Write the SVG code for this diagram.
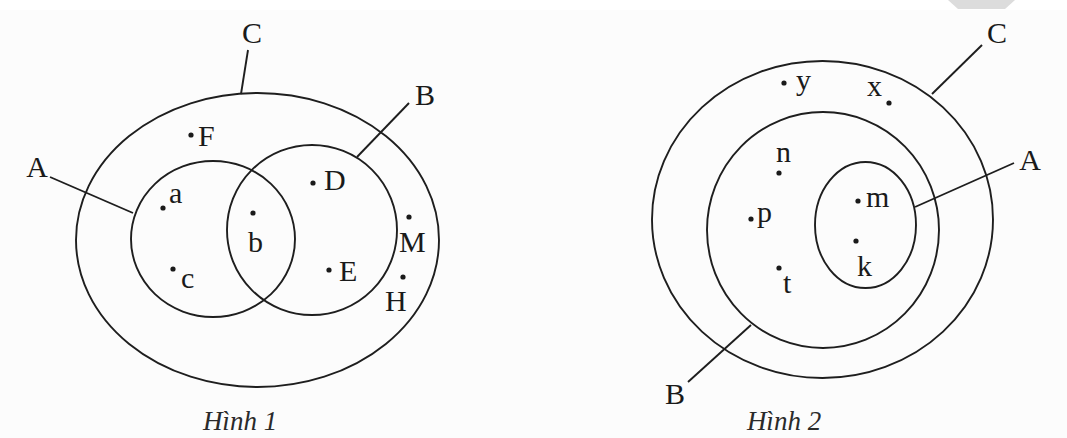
<svg xmlns="http://www.w3.org/2000/svg" width="1067" height="438" viewBox="0 0 1067 438">
<style>
.sh{fill:none;stroke:#1e1e1e;stroke-width:1.9}
.ln{stroke:#1e1e1e;stroke-width:1.9;fill:none}
.dot{fill:#1a1a1a}
.t{font-family:"Liberation Serif","DejaVu Serif",serif;font-size:30px;fill:#1a1a1a}
.cap{font-family:"Liberation Serif","DejaVu Serif",serif;font-size:27px;font-style:italic;fill:#2a2a2a}
</style>
<rect x="0" y="0" width="1067" height="438" fill="#fcfcfc"/>
<rect x="0" y="0" width="1067" height="10" fill="#ffffff"/>
<polygon points="948,0 1015,0 1005,9 958,9" fill="#dcdcdc"/>

<g id="fig1">
  <g id="fig1-C"><ellipse class="sh" cx="257.5" cy="240" rx="181.5" ry="147"/><text class="t" x="252" y="43" text-anchor="middle">C</text></g>
  <g id="fig1-A"><ellipse class="sh" cx="213" cy="239" rx="82" ry="78"/><text class="t" x="37" y="177" text-anchor="middle">A</text></g>
  <g id="fig1-B"><ellipse class="sh" cx="312" cy="230" rx="85" ry="85"/><text class="t" x="425" y="105" text-anchor="middle">B</text></g>
  <g id="fig1-points">
    <circle class="dot" cx="191" cy="135" r="2.6"/><text class="t" x="198" y="146">F</text>
    <circle class="dot" cx="163" cy="208" r="2.6"/><text class="t" x="169" y="203">a</text>
    <circle class="dot" cx="253" cy="213" r="2.6"/><text class="t" x="248" y="252">b</text>
    <circle class="dot" cx="173" cy="269" r="2.6"/><text class="t" x="181" y="288">c</text>
    <circle class="dot" cx="313" cy="183" r="2.6"/><text class="t" x="324" y="190">D</text>
    <circle class="dot" cx="329" cy="270" r="2.6"/><text class="t" x="339" y="281">E</text>
    <circle class="dot" cx="409" cy="217" r="2.6"/><text class="t" x="399" y="252">M</text>
    <circle class="dot" cx="403" cy="277" r="2.6"/><text class="t" x="385" y="311">H</text>
  </g>
  <text class="cap" x="240" y="430" text-anchor="middle">Hình 1</text>
</g>

<g id="fig2">
  <g id="fig2-C"><ellipse class="sh" cx="822.5" cy="219.5" rx="170.5" ry="158.5"/><text class="t" x="997" y="43" text-anchor="middle">C</text></g>
  <g id="fig2-B"><ellipse class="sh" cx="823" cy="230" rx="116" ry="118"/><text class="t" x="675" y="404" text-anchor="middle">B</text></g>
  <g id="fig2-A"><ellipse class="sh" cx="865.5" cy="225" rx="50.5" ry="63"/><text class="t" x="1030" y="170" text-anchor="middle">A</text></g>
  <g id="fig2-points">
    <circle class="dot" cx="784" cy="83" r="2.6"/><text class="t" x="796" y="90">y</text>
    <circle class="dot" cx="889" cy="103" r="2.6"/><text class="t" x="867" y="96">x</text>
    <circle class="dot" cx="779" cy="173" r="2.6"/><text class="t" x="776" y="162">n</text>
    <circle class="dot" cx="751" cy="219" r="2.6"/><text class="t" x="757" y="222">p</text>
    <circle class="dot" cx="779" cy="268" r="2.6"/><text class="t" x="783" y="293">t</text>
    <circle class="dot" cx="858" cy="201" r="2.6"/><text class="t" x="866" y="207">m</text>
    <circle class="dot" cx="856" cy="241" r="2.6"/><text class="t" x="857" y="276">k</text>
  </g>
  <text class="cap" x="784" y="430" text-anchor="middle">Hình 2</text>
</g>

<g id="connectors">
  <line class="ln" x1="248" y1="50" x2="241" y2="94"/>
  <line class="ln" x1="50" y1="177" x2="133" y2="213"/>
  <line class="ln" x1="409" y1="103" x2="357" y2="157"/>
  <line class="ln" x1="982" y1="45" x2="932" y2="94"/>
  <line class="ln" x1="1014" y1="163" x2="915" y2="207"/>
  <line class="ln" x1="688" y1="382" x2="751" y2="325"/>
</g>
</svg>
